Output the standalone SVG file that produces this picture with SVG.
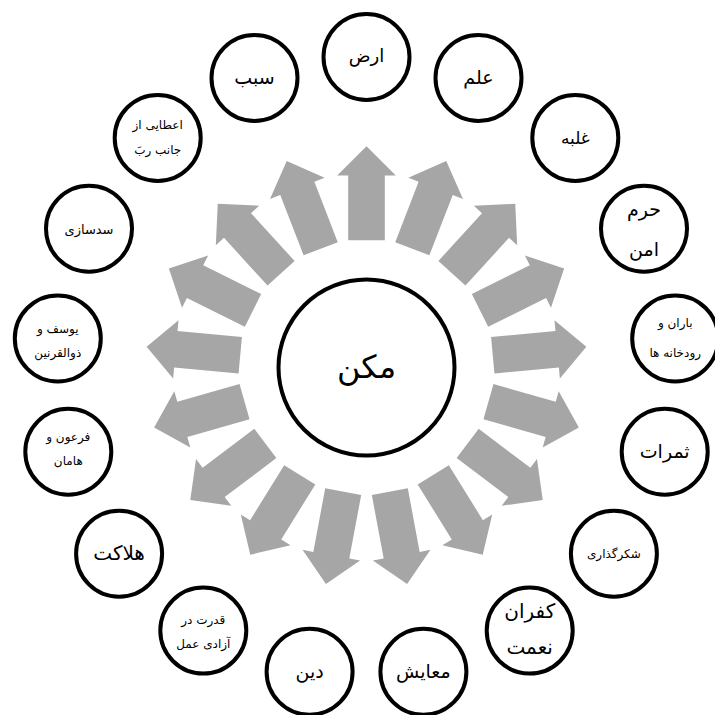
<svg xmlns="http://www.w3.org/2000/svg" xmlns:xlink="http://www.w3.org/1999/xlink" width="715" height="715" viewBox="0 0 715 715">
<style>
.c{fill:#fff;stroke:#000;stroke-width:4}
.cc{fill:#fff;stroke:#000;stroke-width:4}
.a{fill:#a6a6a6}
text{font-family:"DejaVu Sans","Noto Sans",sans-serif;text-anchor:middle;fill:#000}
</style>
<defs>
<path id="arr" d="M-18.3,-126.8 L-18.3,-191.5 L-29.3,-191.5 L0,-220.8 L29.3,-191.5 L18.3,-191.5 L18.3,-126.8 Z"/>
</defs>
<rect width="715" height="715" fill="#fff"/>
<g id="connectors" class="a">
<use xlink:href="#arr" transform="translate(366.5 367) rotate(0)"/>
<use xlink:href="#arr" transform="translate(366.5 367) rotate(21.176)"/>
<use xlink:href="#arr" transform="translate(366.5 367) rotate(42.353)"/>
<use xlink:href="#arr" transform="translate(366.5 367) rotate(63.529)"/>
<use xlink:href="#arr" transform="translate(366.5 367) rotate(84.706)"/>
<use xlink:href="#arr" transform="translate(366.5 367) rotate(105.882)"/>
<use xlink:href="#arr" transform="translate(366.5 367) rotate(127.059)"/>
<use xlink:href="#arr" transform="translate(366.5 367) rotate(148.235)"/>
<use xlink:href="#arr" transform="translate(366.5 367) rotate(169.412)"/>
<use xlink:href="#arr" transform="translate(366.5 367) rotate(190.588)"/>
<use xlink:href="#arr" transform="translate(366.5 367) rotate(211.765)"/>
<use xlink:href="#arr" transform="translate(366.5 367) rotate(232.941)"/>
<use xlink:href="#arr" transform="translate(366.5 367) rotate(254.118)"/>
<use xlink:href="#arr" transform="translate(366.5 367) rotate(275.294)"/>
<use xlink:href="#arr" transform="translate(366.5 367) rotate(296.471)"/>
<use xlink:href="#arr" transform="translate(366.5 367) rotate(317.647)"/>
<use xlink:href="#arr" transform="translate(366.5 367) rotate(338.824)"/>
</g>
<g id="center"><circle class="cc" cx="366.5" cy="367.5" r="88"/><text x="366.5" y="378" font-size="32">مکن</text></g>
<g id="n0"><circle class="c" cx="366.5" cy="57" r="43"/><text x="366.5" y="62" font-size="18">ارض</text></g>
<g id="n1"><circle class="c" cx="478.5" cy="78" r="43"/><text x="478.5" y="84" font-size="19">علم</text></g>
<g id="n2"><circle class="c" cx="575.3" cy="137.9" r="43"/><text x="575.3" y="144" font-size="17">غلبه</text></g>
<g id="n3"><circle class="c" cx="644" cy="228.8" r="43"/><text x="644" y="216" font-size="19">حرم</text><text x="644" y="256" font-size="19">امن</text></g>
<g id="n4"><circle class="c" cx="675.2" cy="338.4" r="43"/><text x="675.2" y="327" font-size="12">باران و</text><text x="675.2" y="357" font-size="12">رودخانه ها</text></g>
<g id="n5"><circle class="c" cx="664.7" cy="451.8" r="43"/><text x="664.7" y="458" font-size="19">ثمرات</text></g>
<g id="n6"><circle class="c" cx="613.9" cy="553.8" r="43"/><text x="613.9" y="558" font-size="12">شکرگذاری</text></g>
<g id="n7"><circle class="c" cx="529.7" cy="630.6" r="43"/><text x="529.7" y="618" font-size="20">کفران</text><text x="529.7" y="654" font-size="20">نعمت</text></g>
<g id="n8"><circle class="c" cx="423.4" cy="671.7" r="43"/><text x="423.4" y="678" font-size="19">معایش</text></g>
<g id="n9"><circle class="c" cx="309.6" cy="671.7" r="43"/><text x="309.6" y="678" font-size="19">دین</text></g>
<g id="n10"><circle class="c" cx="203.3" cy="630.6" r="43"/><text x="203.3" y="624" font-size="12">قدرت در</text><text x="203.3" y="648" font-size="12">آزادی عمل</text></g>
<g id="n11"><circle class="c" cx="119.1" cy="553.8" r="43"/><text x="119.1" y="560" font-size="20">هلاکت</text></g>
<g id="n12"><circle class="c" cx="68.3" cy="451.8" r="43"/><text x="68.3" y="441" font-size="12">فرعون و</text><text x="68.3" y="465" font-size="12">هامان</text></g>
<g id="n13"><circle class="c" cx="57.8" cy="338.4" r="43"/><text x="57.8" y="333" font-size="12">یوسف و</text><text x="57.8" y="357" font-size="12">ذوالقرنین</text></g>
<g id="n14"><circle class="c" cx="89" cy="228.8" r="43"/><text x="89" y="234" font-size="13">سدسازی</text></g>
<g id="n15"><circle class="c" cx="157.7" cy="137.9" r="43"/><text x="157.7" y="129" font-size="12">اعطایی از</text><text x="157.7" y="154" font-size="12">جانب ربَ</text></g>
<g id="n16"><circle class="c" cx="254.5" cy="78" r="43"/><text x="254.5" y="84" font-size="19">سبب</text></g>
</svg>
